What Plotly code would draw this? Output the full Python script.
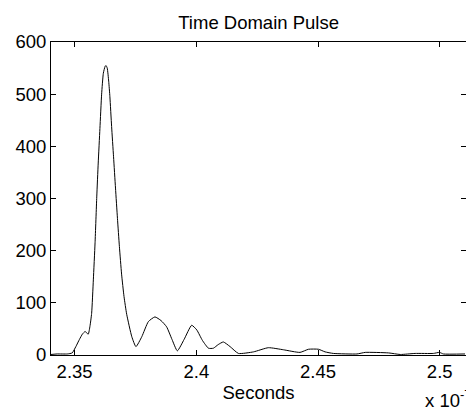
import plotly.graph_objects as go

# time in units of 1e-7 seconds
t_e7 = [2.3403, 2.3428, 2.3470, 2.3490, 2.3505, 2.3520, 2.3532, 2.3543, 2.3556,
        2.3563, 2.3570, 2.3577, 2.3584, 2.3591, 2.3597, 2.3604, 2.3611, 2.3618,
        2.3625, 2.3629, 2.3634, 2.3640, 2.3645, 2.3652, 2.3660, 2.3668, 2.3676,
        2.3684, 2.3693, 2.3703, 2.3714, 2.3735, 2.3752, 2.3776, 2.3803, 2.3830,
        2.3855, 2.3878, 2.3900, 2.3922, 2.3950, 2.3981, 2.4002, 2.4025, 2.4050,
        2.4070, 2.4090, 2.4111, 2.4139, 2.4173, 2.4235, 2.4296, 2.4358, 2.4426,
        2.4461, 2.4502, 2.4529, 2.4563, 2.4660, 2.4694, 2.4790, 2.4838, 2.4899,
        2.4974, 2.4999, 2.5015, 2.5104]
amplitude = [1, 2, 2, 4, 16, 30, 40, 45, 40,
             55, 80, 144, 215, 303, 368, 434, 500, 540,
             553, 555, 550, 525, 495, 438, 380, 320, 262,
             208, 155, 112, 78, 35, 16, 35, 64, 73,
             66, 54, 30, 8, 30, 57, 48, 28, 13,
             13, 20, 25, 16, 3, 6, 14, 10, 5,
             11, 11, 6, 3, 2, 5, 4, 1, 3,
             3, 5, 2, 2]

x_ticks = [2.35, 2.40, 2.45, 2.50]
x_ticktext = ["2.35", "2.4", "2.45", "2.5"]
y_ticks = [0, 100, 200, 300, 400, 500, 600]

FONT = "Liberation Sans, Arial, sans-serif"
fs = 18.5

fig = go.Figure()
fig.add_trace(go.Scatter(x=t_e7, y=amplitude, mode="lines",
                         line=dict(color="black", width=1, shape="spline", smoothing=0.5),
                         showlegend=False, hoverinfo="skip"))
fig.add_trace(go.Scatter(x=[t_e7[0]], y=[0], yaxis="y2", mode="markers",
                         marker=dict(opacity=0), showlegend=False, hoverinfo="skip"))

fig.update_layout(
    width=466, height=407,
    margin=dict(l=51, r=0, t=42, b=52),
    paper_bgcolor="white", plot_bgcolor="white",
    font=dict(family=FONT, size=fs, color="black"),
    title=dict(text="Time Domain Pulse", x=0.555, xanchor="center",
               y=1 - 23 / 407, yanchor="middle", yref="container",
               font=dict(family=FONT, size=fs, color="black")),
    xaxis=dict(range=[2.3403, 2.5108], tickvals=x_ticks, ticktext=x_ticktext,
               ticks="inside", ticklen=5, tickcolor="black", showline=True,
               linecolor="black", linewidth=1, mirror="ticks", showgrid=False,
               zeroline=False,
               title=dict(text="Seconds", standoff=4, font=dict(size=fs))),
    yaxis=dict(range=[0, 600], tickvals=y_ticks, ticks="inside", ticklen=5,
               tickcolor="black", showline=True, linecolor="black", linewidth=1,
               showgrid=False, zeroline=False),
    yaxis2=dict(range=[0, 600], overlaying="y", side="right", tickvals=y_ticks,
                ticks="inside", ticklen=5, tickcolor="black", showline=False,
                showticklabels=False, showgrid=False, zeroline=False),
    annotations=[dict(text="x 10<sup>-7</sup>", xref="paper", yref="paper",
                      x=0.896, y=-0.142, xanchor="left", yanchor="middle",
                      showarrow=False, font=dict(family=FONT, size=fs, color="black"))],
)

fig.write_html("out.html")
